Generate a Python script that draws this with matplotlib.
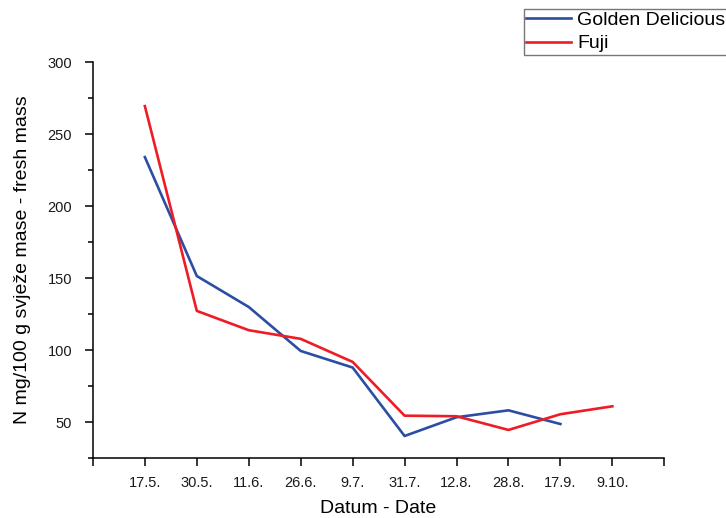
import matplotlib
matplotlib.use("Agg")
import matplotlib.pyplot as plt
from matplotlib.ticker import MultipleLocator

plt.rcParams['font.family'] = ['Liberation Sans', 'DejaVu Sans']

dates = ['17.5.', '30.5.', '11.6.', '26.6.', '9.7.', '31.7.', '12.8.', '28.8.', '17.9.', '9.10.']
golden = [234, 151.5, 130, 99.5, 88, 40.5, 53.5, 58.3, 48.8]
fuji = [269.4, 127.3, 113.9, 107.9, 91.9, 54.6, 54.2, 44.7, 55.6, 61.1]

fig = plt.figure(figsize=(7.26, 5.18), dpi=100)
ax = fig.add_axes([0.128, 0.1152, 0.787, 0.7651])

x_g = range(1, len(golden) + 1)
x_f = range(1, len(fuji) + 1)
ax.plot(x_g, golden, color='#2b4ea3', lw=1.9, label='Golden Delicious')
ax.plot(x_f, fuji, color='#ee1c25', lw=1.9, label='Fuji')

ax.set_xlim(0, len(dates) + 1)
ax.set_ylim(25, 300)
ax.set_xticks(range(0, len(dates) + 2))
ax.set_xticklabels([''] + dates + [''])
ax.yaxis.set_major_locator(MultipleLocator(50))
ax.yaxis.set_minor_locator(MultipleLocator(25))

for s in ['top', 'right']:
    ax.spines[s].set_visible(False)
for s in ['left', 'bottom']:
    ax.spines[s].set_linewidth(1.1)

ax.tick_params(axis='both', which='major', direction='out', length=6, width=1.1,
               labelsize=10.5, labelcolor='#1a1a1a')
ax.tick_params(axis='y', which='major', pad=9)
ax.tick_params(axis='x', which='major', pad=7)
ax.tick_params(axis='y', which='minor', direction='out', length=3.5, width=1.1)

ax.set_xlabel('Datum - Date', fontsize=14, labelpad=7)
ax.set_ylabel('N mg/100 g svježe mase - fresh mass', fontsize=14, labelpad=12)

leg = fig.legend(loc='upper left', bbox_to_anchor=(524 / 726, 1 - 9 / 518),
                 fontsize=14, frameon=True, fancybox=False, borderpad=0.12,
                 handlelength=2.3, handletextpad=0.3, labelspacing=0.3,
                 borderaxespad=0)
leg.get_frame().set_edgecolor('#555555')
leg.get_frame().set_linewidth(1.0)

fig.savefig('out.png', dpi=100)
